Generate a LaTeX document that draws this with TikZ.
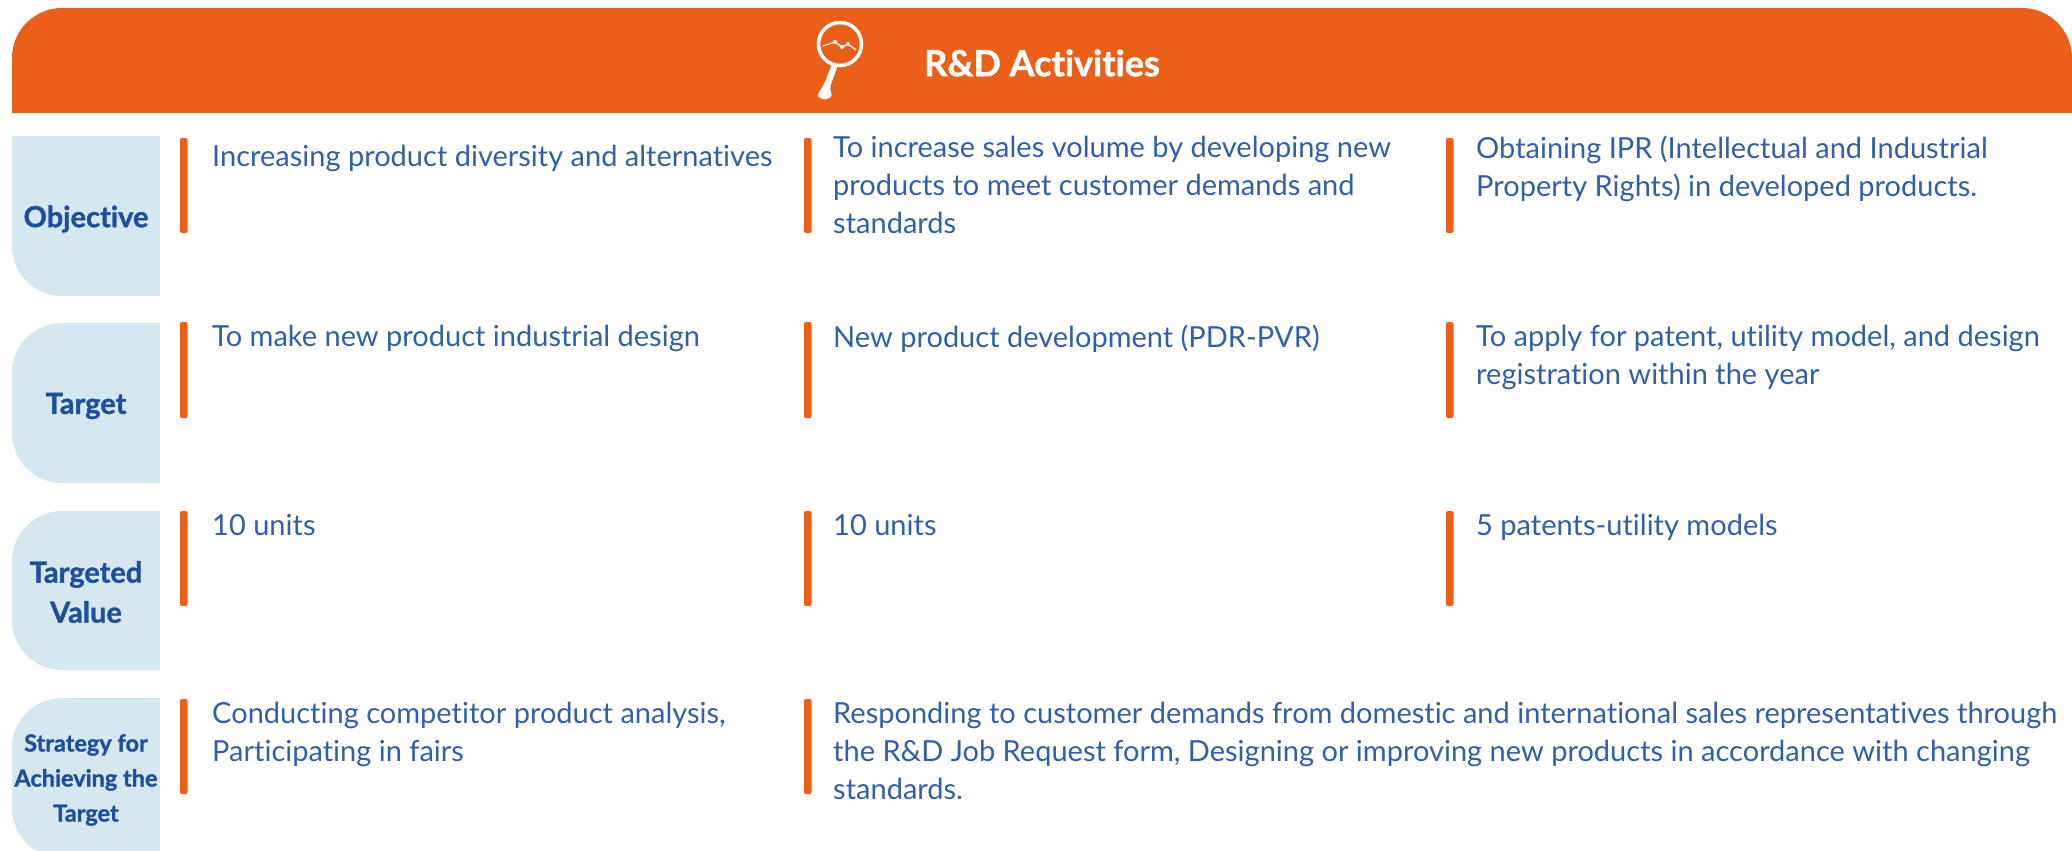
\documentclass[tikz,border=0pt]{standalone}
\usepackage{fontspec}
\setmainfont[Ligatures=NoCommon,BoldFeatures={FakeBold=1.2}]{Lato}
\definecolor{orangeH}{HTML}{EC5F19}
\definecolor{paleB}{HTML}{D5E8F0}
\definecolor{txtB}{HTML}{2F60A8}
\definecolor{labB}{HTML}{1E4F9C}
\newcommand{\bodyfont}{\fontsize{29}{38}\selectfont}
\tikzset{
  x=1pt,y=-1pt,
  cell/.style={anchor=north west,inner sep=0pt,align=left,text=txtB,font=\bodyfont,text depth=0pt},
  lab/.style={inner sep=0pt,align=center,text=labB,font=\fontsize{29}{40}\selectfont\bfseries},
  labsmall/.style={inner sep=0pt,align=center,text=labB,font=\fontsize{23.5}{35}\selectfont\bfseries},
  barO/.style={fill=orangeH,draw=none,rounded corners=2pt},
  boxB/.style={fill=paleB,draw=none},
}
\begin{document}
\begin{tikzpicture}
\useasboundingbox (0,0) rectangle (2072,851);
\clip (0,0) rectangle (2072,851);
% header
\fill[orangeH] (12,113) [rounded corners=50pt] -- (12,8) -- (2072,8) [sharp corners] -- (2072,113) -- cycle;
% magnifier
\draw[white,line width=3.5pt] (840,44) circle[radius=21.5];
\draw[white,line width=1.2pt] (823,46) -- (835,42) -- (842,47) -- (848,44) -- (856,50);
\fill[white] (835,42) circle[radius=2] (842,47) circle[radius=2] (848,44) circle[radius=2];
\fill[white,rounded corners=2pt] (832,64) -- (838,65) -- (830,87) -- (832,97) -- (824,100) -- (817,96) -- (824,84) -- cycle;
\node[inner sep=0pt,text=white,font=\fontsize{36}{40}\selectfont\bfseries] (title) at (1042,63) {R\&D Activities};
% label boxes
\fill[boxB] (12,136) -- (160,136) -- (160,296) [rounded corners=50pt] -- (12,296) [sharp corners] -- cycle;
\fill[boxB] (160,323) -- (160,483) [rounded corners=50pt] -- (12,483) -- (12,323) [sharp corners] -- cycle;
\fill[boxB] (160,511) -- (160,670) [rounded corners=50pt] -- (12,670) -- (12,511) [sharp corners] -- cycle;
\fill[boxB] (160,698) -- (160,858) [rounded corners=50pt] -- (12,858) -- (12,698) [sharp corners] -- cycle;
\node[lab] (l1) at (86,219) {Objective};
\node[lab] (l2) at (86,406) {Target};
\node[lab] (l3) at (86,592) {Targeted\\Value};
\node[labsmall] (l4) at (86,780) {Strategy for\\Achieving the\\Target};
% bars
\foreach \x in {180,804,1446}{
  \foreach \y/\h in {138/233,322/418,511/606}{
    \fill[barO] (\x,\y) rectangle (\x+7.5,\h);
  }
}
\fill[barO] (180,699) rectangle (187.5,794);
\fill[barO] (804,699) rectangle (811.5,794);
% cells
\node[cell] (a1) at (212,145) {Increasing product diversity and alternatives};
\node[cell] (a2) at (833,136) {To increase sales volume by developing new\\products to meet customer demands and\\standards};
\node[cell] (a3) at (1476,136) {Obtaining IPR (Intellectual and Industrial\\Property Rights) in developed products.};
\node[cell] (b1) at (212,325) {To make new product industrial design};
\node[cell] (b2) at (833,325) {New product development (PDR-PVR)};
\node[cell] (b3) at (1476,325) {To apply for patent, utility model, and design\\registration within the year};
\node[cell] (c1) at (212,514) {10 units};
\node[cell] (c2) at (833,514) {10 units};
\node[cell] (c3) at (1476,514) {5 patents-utility models};
\node[cell] (d1) at (212,702) {Conducting competitor product analysis,\\Participating in fairs};
\node[cell] (d2) at (833,702) {Responding to customer demands from domestic and international sales representatives through\\the R\&D Job Request form, Designing or improving new products in accordance with changing\\standards.};
\end{tikzpicture}
\end{document}
